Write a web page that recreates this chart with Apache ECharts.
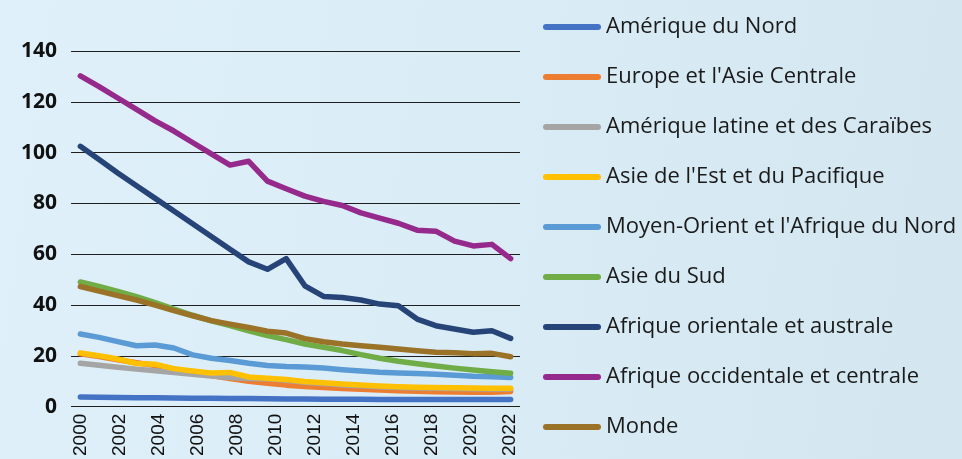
<!DOCTYPE html>
<html>
<head>
<meta charset="utf-8">
<script src="https://cdn.jsdelivr.net/npm/echarts@6/dist/echarts.min.js"></script>
<style>
  html, body { margin: 0; padding: 0; }
  #chart { width: 962px; height: 459px; }
</style>
</head>
<body>
<div id="chart"></div>
<script>
// years of the data points (2000 - 2023)
const years = ['2000','2001','2002','2003','2004','2005','2006','2007','2008','2009','2010','2011',
               '2012','2013','2014','2015','2016','2017','2018','2019','2020','2021','2022','2023']
// tick labels printed under the axis
const tickLabels = ['2000','2001','2002','2003','2004','2005','2006','2007','2008','2009','2010','2011',
                    '2012','2013','2014','2015','2016','2017','2018','2019','2020','2021','2022']

const regionNames = [
    'Amérique du Nord',
    "Europe et l'Asie Centrale",
    'Amérique latine et des Caraïbes',
    "Asie de l'Est et du Pacifique",
    "Moyen-Orient et l'Afrique du Nord",
    'Asie du Sud',
    'Afrique orientale et australe',
    'Afrique occidentale et centrale',
    'Monde'
]
const regionColors = ['#4472c4','#ed7d31','#a5a5a5','#ffc000','#5b9bd5','#70ad47','#264478','#962a8c','#9a7328']

const ameriqueNord = [3.8,3.7,3.6,3.5,3.5,3.4,3.3,3.3,3.2,3.2,3.1,3.0,3.0,2.9,2.9,2.9,2.8,2.8,2.8,2.8,2.8,2.8,2.8,2.8]
const europeAsieCentrale = [20.8,19.8,18.5,17.3,16.2,14.8,13.5,12.3,11.1,10.0,9.2,8.5,8.0,7.6,7.2,6.9,6.6,6.3,6.1,5.9,5.8,5.7,5.7,6.0]
const ameriqueLatine = [17.1,16.3,15.5,14.8,14.2,13.5,12.8,12.1,11.5,11.1,11.0,10.4,9.6,9.1,8.6,8.3,7.9,7.6,7.4,7.3,7.2,7.1,7.0,7.0]
const asieEstPacifique = [21.2,20.1,18.8,17.0,16.7,15.0,14.1,13.3,13.5,11.7,11.2,10.7,9.9,9.4,8.9,8.6,8.2,7.9,7.7,7.6,7.5,7.4,7.3,7.3]
const moyenOrient = [28.6,27.3,25.6,24.0,24.3,23.1,20.4,19.1,18.2,17.1,16.2,15.8,15.6,15.2,14.6,14.1,13.6,13.3,13.1,12.8,12.4,12.0,11.8,11.5]
const asieSud = [49.1,47.3,45.4,43.3,41.0,38.4,36.0,33.8,31.9,29.9,28.0,26.4,24.7,23.4,22.1,20.5,19.1,17.9,16.9,16.0,15.2,14.5,13.8,13.2]
const afriqueOrientale = [102.5,97.3,92.0,87.0,82.0,77.0,72.0,67.0,62.0,57.0,54.1,58.3,47.6,43.4,43.0,42.0,40.4,39.7,34.5,31.9,30.6,29.3,29.9,26.9]
const afriqueOccidentale = [130.2,126.0,121.5,117.0,112.5,108.5,104.0,99.5,95.1,96.6,88.8,85.8,82.9,80.8,79.2,76.3,74.2,72.2,69.5,69.1,65.2,63.3,63.9,58.3]
const monde = [47.3,45.5,43.7,42.0,40.0,37.8,35.8,33.9,32.5,31.2,29.7,29.0,26.8,25.6,24.7,24.0,23.4,22.7,22.0,21.4,21.2,20.9,21.0,19.7]

const regionValues = [ameriqueNord, europeAsieCentrale, ameriqueLatine, asieEstPacifique,
                      moyenOrient, asieSud, afriqueOrientale, afriqueOccidentale, monde]

let chart = echarts.init(document.getElementById('chart'))

let series = regionNames.map((name, i) => ({
    name: name,
    type: 'line',
    data: regionValues[i],
    symbol: 'none',
    color: regionColors[i],
    lineStyle: {
        width: 5.5,
        color: regionColors[i],
        cap: 'round',
        join: 'round'
    },
    emphasis: { disabled: true }
}))

let option = {
    backgroundColor: {
        type: 'linear', x: 0, y: 0, x2: 1, y2: 0.3,
        colorStops: [
            { offset: 0, color: '#dff0fa' },
            { offset: 0.5, color: '#daecf6' },
            { offset: 1, color: '#d4e7f1' }
        ]
    },
    animation: false,
    grid: {
        left: 71,
        right: 442,
        top: 51,
        bottom: 51
    },
    legend: {
        orient: 'vertical',
        left: 538,
        top: 11,
        // capsule shaped line marker
        icon: 'path://M3,0 H55 A3,3 0 0 1 55,6 H3 A3,3 0 0 1 3,0 Z',
        itemWidth: 58,
        itemHeight: 6,
        itemGap: 28,
        textStyle: {
            fontFamily: 'Open Sans',
            fontSize: 22,
            lineHeight: 22,
            color: '#1a1a1a'
        },
        data: regionNames
    },
    xAxis: [
        {
            type: 'category',
            data: years,
            boundaryGap: true,
            axisLine: { show: false },
            axisTick: { show: false },
            axisLabel: { show: false }
        },
        {
            type: 'category',
            data: tickLabels,
            position: 'bottom',
            boundaryGap: true,
            axisLine: { show: false },
            axisTick: { show: false },
            axisLabel: {
                interval: 1,
                rotate: 90,
                margin: 7,
                fontFamily: 'Liberation Sans',
                fontSize: 19,
                color: '#111'
            }
        }
    ],
    yAxis: {
        type: 'value',
        min: 0,
        max: 140,
        interval: 20,
        axisLine: { show: false },
        axisTick: { show: false },
        axisLabel: {
            margin: 14,
            fontFamily: 'Open Sans',
            fontWeight: 'bold',
            fontSize: 21,
            color: '#111'
        },
        splitLine: {
            lineStyle: { color: '#1e1e1e', width: 1 }
        }
    },
    series: series
}

chart.setOption(option)
</script>
</body>
</html>
